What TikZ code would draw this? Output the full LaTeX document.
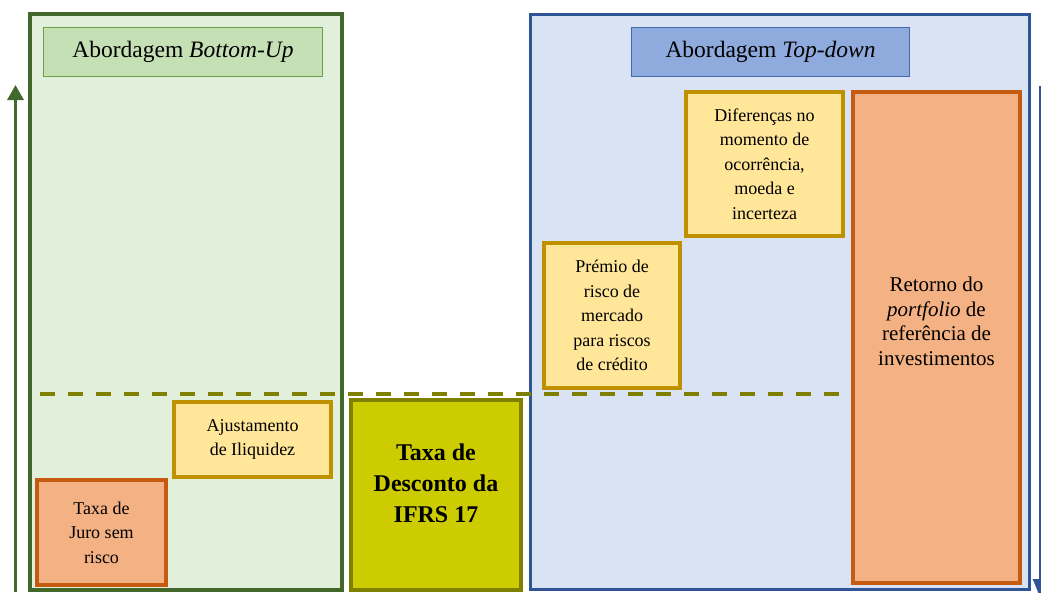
\documentclass[tikz,border=0pt]{standalone}
\usepackage{fontspec}
\setmainfont{Liberation Serif}
\usetikzlibrary{arrows.meta}

\definecolor{frameGreen}{HTML}{43682B}
\definecolor{fillGreen}{HTML}{E2EFDA}
\definecolor{titleGreen}{HTML}{C5E0B4}
\definecolor{titleGreenLine}{HTML}{6D9F4B}
\definecolor{frameBlue}{HTML}{2F5597}
\definecolor{fillBlue}{HTML}{DAE3F3}
\definecolor{titleBlue}{HTML}{8FAADC}
\definecolor{titleBlueLine}{HTML}{4169AE}
\definecolor{yelFill}{HTML}{FFE699}
\definecolor{yelLine}{HTML}{BF9000}
\definecolor{orgFill}{HTML}{F4B183}
\definecolor{orgLine}{HTML}{C55A11}
\definecolor{oliveFill}{HTML}{CCCC00}
\definecolor{oliveLine}{HTML}{808000}

\tikzset{
  panel/.style={draw, rectangle, inner sep=0pt},
  greenpanel/.style={panel, draw=frameGreen, fill=fillGreen, line width=4pt},
  bluepanel/.style={panel, draw=frameBlue, fill=fillBlue, line width=3pt},
  titlebox/.style={panel, line width=1.5pt, font=\fontsize{23.5}{28}\selectfont},
  factor/.style={panel, line width=4pt, align=center,
                 font=\fontsize{18}{24.6}\selectfont},
  yelbox/.style={factor, draw=yelLine, fill=yelFill},
  orgbox/.style={factor, draw=orgLine, fill=orgFill},
  olivebox/.style={factor, draw=oliveLine, fill=oliveFill},
  boldlabel/.style={align=center, font=\fontsize{24}{31}\selectfont\bfseries},
  biglabel/.style={align=center, font=\fontsize{21}{24.6}\selectfont},
  level/.style={draw=oliveLine, line width=4pt, dash pattern=on 15pt off 13pt},
}

\begin{document}
\begin{tikzpicture}[x=1pt, y=-1pt]
\useasboundingbox (0,0) rectangle (1041,592);

% the two approach panels
\node[greenpanel, minimum width=312.5pt, minimum height=575.5pt] (bu) at (185.75,301.75) {};
\node[bluepanel, minimum width=498.5pt, minimum height=574.5pt] (td) at (779.75,301.75) {};

% panel titles
\node[titlebox, draw=titleGreenLine, fill=titleGreen, minimum width=279pt, minimum height=49pt]
  (buTitle) at (183,52) {Abordagem \textit{Bottom-Up}};
\node[titlebox, draw=titleBlueLine, fill=titleBlue, minimum width=278pt, minimum height=49pt]
  (tdTitle) at (770.5,52) {Abordagem \textit{Top-down}};

% vertical direction arrows
\coordinate (upStart) at (15.5,592);
\coordinate (upEnd) at (15.5,85);
\draw[frameGreen, line width=3pt, -{Triangle[width=16pt,length=15pt]}] (upStart) -- (upEnd);
\coordinate (downStart) at (1040,86);
\coordinate (downEnd) at (1040,597);
\draw[frameBlue, line width=2pt, -{Triangle[width=14pt,length=18pt]}] (downStart) -- (downEnd);

% bottom-up components
\node[yelbox, minimum width=157pt, minimum height=75pt] (aju) at (252.5,439.5)
  {Ajustamento\\de Iliquidez};
\node[orgbox, minimum width=129pt, minimum height=105pt] (juro) at (101.5,532.5)
  {Taxa de\\Juro sem\\risco};

% resulting discount rate
\node[olivebox, minimum width=170pt, minimum height=190pt] (desc) at (436,495) {};
\node[boldlabel] (descText) at ([yshift=12pt]desc.center) {Taxa de\\Desconto da\\IFRS 17};

% top-down components
\node[yelbox, minimum width=157pt, minimum height=144pt] (dif) at (764.5,164)
  {Diferenças no\\momento de\\ocorrência,\\moeda e\\incerteza};
\node[yelbox, minimum width=136pt, minimum height=145pt] (pre) at (612,315.5)
  {Prémio de\\risco de\\mercado\\para riscos\\de crédito};
\node[orgbox, minimum width=167pt, minimum height=491pt] (ret) at (936.5,337.5) {};
\node[biglabel] (retText) at ([yshift=16pt]ret.center)
  {Retorno do\\\textit{portfolio} de\\referência de\\investimentos};

% common level line
\coordinate (levelL) at (40,394);
\coordinate (levelR) at (842,394);
\draw[level] (levelL) -- (levelR);
\end{tikzpicture}
\end{document}
